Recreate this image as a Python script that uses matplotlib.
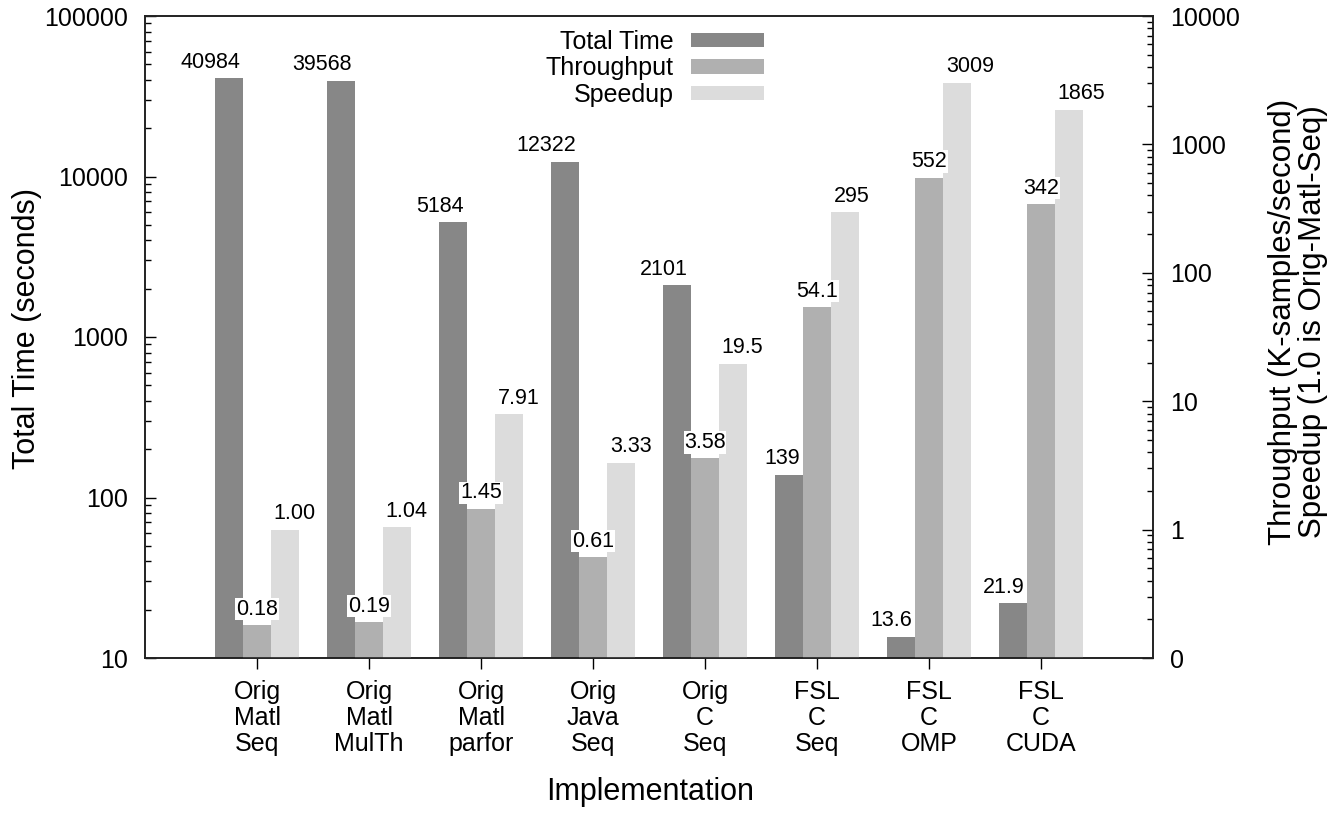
import numpy as np
import matplotlib
matplotlib.use("Agg")
import matplotlib.pyplot as plt
from matplotlib.ticker import FixedLocator, LogLocator, NullFormatter

plt.rcParams['font.family'] = ['Liberation Sans', 'DejaVu Sans']

# implementations on the x axis
impls = ["Orig\nMatl\nSeq", "Orig\nMatl\nMulTh", "Orig\nMatl\nparfor", "Orig\nJava\nSeq",
         "Orig\nC\nSeq", "FSL\nC\nSeq", "FSL\nC\nOMP", "FSL\nC\nCUDA"]
total_time = [40984, 39568, 5184, 12322, 2101, 139, 13.6, 21.9]   # seconds
throughput = [0.18, 0.19, 1.45, 0.61, 3.58, 54.1, 552, 342]       # K-samples/s
speedup = [1.00, 1.04, 7.91, 3.33, 19.5, 295, 3009, 1865]

left_ticks = [10, 100, 1000, 10000, 100000]
right_ticks = [0.1, 1, 10, 100, 1000, 10000]
right_labels = ["0", "1", "10", "100", "1000", "10000"]

c_dark, c_mid, c_light = "#878787", "#b0b0b0", "#dcdcdc"


def fmt(v):
    if v >= 100:
        return f"{v:.0f}"
    if v >= 10:
        return f"{v:.1f}"
    return f"{v:.2f}"


fig = plt.figure(figsize=(13.38, 8.18), dpi=100)
ax = fig.add_axes([145 / 1338, 1 - 658 / 818, 1008 / 1338, 642 / 818])
ax2 = ax.twinx()

x = np.arange(len(impls))
w = 0.25

b1 = ax.bar(x - w, total_time, w, color=c_dark, label="Total Time", zorder=2)
b2 = ax2.bar(x, throughput, w, color=c_mid, label="Throughput", zorder=2)
b3 = ax2.bar(x + w, speedup, w, color=c_light, label="Speedup", zorder=2)

ax.set_yscale("log")
ax2.set_yscale("log")
ax.set_ylim(10, 100000)
ax2.set_ylim(0.1, 10000)
ax.set_xlim(-1, len(impls))

ax.yaxis.set_major_locator(FixedLocator(left_ticks))
ax.set_yticklabels([str(t) for t in left_ticks])
ax.yaxis.set_minor_locator(LogLocator(base=10, subs=np.arange(2, 10)))
ax.yaxis.set_minor_formatter(NullFormatter())
ax2.yaxis.set_major_locator(FixedLocator(right_ticks))
ax2.set_yticklabels(right_labels)
ax2.yaxis.set_minor_locator(LogLocator(base=10, subs=np.arange(2, 10)))
ax2.yaxis.set_minor_formatter(NullFormatter())

ax.set_xticks(x)
ax.set_xticklabels(impls)
for t in ax.get_xticklabels():
    t.set_linespacing(1.1)

ax.tick_params(axis="x", which="both", direction="out", length=8, width=1,
               top=False, labelsize=18, pad=8)
ax.tick_params(axis="y", which="major", direction="in", length=8, width=1,
               labelsize=18, pad=12)
ax.tick_params(axis="y", which="minor", direction="in", length=4, width=1)
ax2.tick_params(axis="y", which="major", direction="in", length=8, width=1,
                labelsize=18, pad=12)
ax2.tick_params(axis="y", which="minor", direction="in", length=4, width=1)

for a in (ax, ax2):
    for s in a.spines.values():
        s.set_linewidth(1.2)
        s.set_color("#222222")

# value labels: dark bars right-aligned, middle centred, light left-aligned
lbl = dict(fontsize=15.5, zorder=5,
           bbox=dict(facecolor="white", edgecolor="none", pad=0.5))
for xi, v in zip(x, total_time):
    ax.annotate(fmt(v), (xi - w / 2, v), xytext=(-2, 4), textcoords="offset points",
                ha="right", va="bottom", **lbl)
for xi, v in zip(x, throughput):
    ax2.annotate(fmt(v), (xi, v), xytext=(0, 4), textcoords="offset points",
                 ha="center", va="bottom", **lbl)
for xi, v in zip(x, speedup):
    ax2.annotate(fmt(v), (xi + w / 2, v), xytext=(2, 4), textcoords="offset points",
                 ha="left", va="bottom", **lbl)

ax2.legend(handles=[b1, b2, b3], loc="upper right",
           bbox_to_anchor=(764 / 1338, 1 - 30 / 818), bbox_transform=fig.transFigure,
           frameon=False, markerfirst=False, fontsize=18, handlelength=2.9,
           handleheight=0.52, handletextpad=0.7, labelspacing=0.1, borderpad=0,
           borderaxespad=0)

fig.text(27 / 1338, 1 - 328 / 818, "Total Time (seconds)", rotation=90,
         ha="center", va="center", fontsize=22)
fig.text(1298 / 1338, 1 - 322 / 818,
         "Throughput (K-samples/second)\nSpeedup (1.0 is Orig-Matl-Seq)",
         rotation=90, ha="center", va="center", fontsize=22.5, linespacing=1.0)
fig.text(650 / 1338, 1 - 792 / 818, "Implementation", ha="center", va="center",
         fontsize=22)

fig.savefig("out.png", dpi=100)
